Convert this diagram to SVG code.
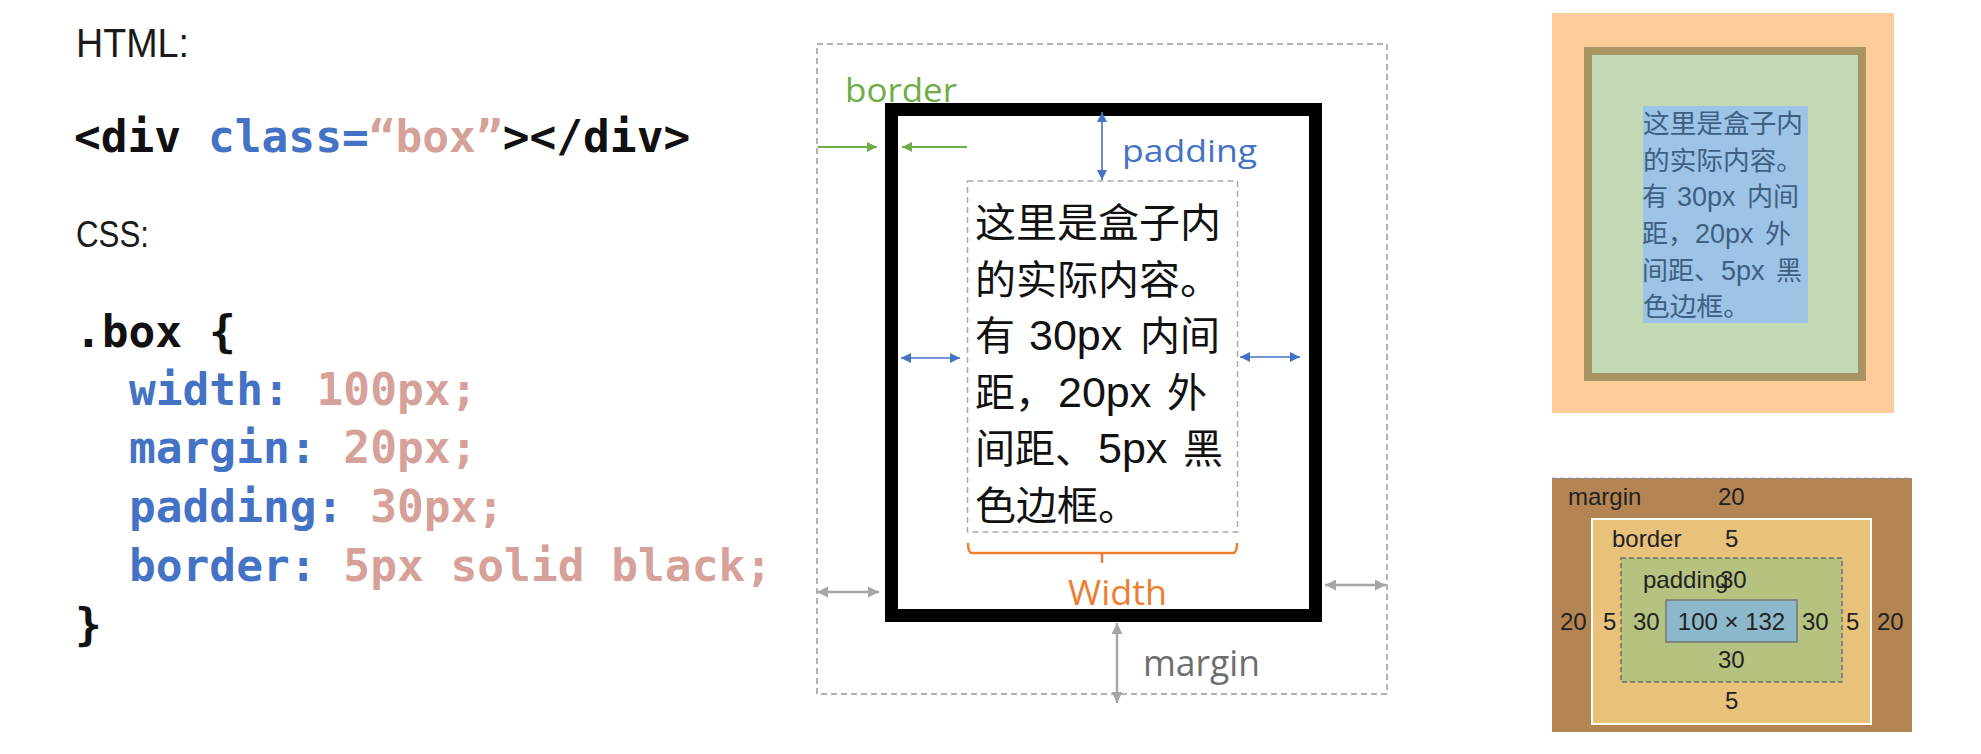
<svg xmlns="http://www.w3.org/2000/svg" width="1981" height="754" viewBox="0 0 1981 754">
<defs>
<style>
.lbl{font-family:"Liberation Sans","Noto Sans",sans-serif;fill:#1a1a1a}
.code{font-family:"DejaVu Sans Mono","Liberation Mono",monospace;font-weight:bold;font-size:44.5px}
.k{fill:#111}
.b{fill:#4472c4}
.v{fill:#d6a198}
.cn{font-family:"Liberation Sans","Noto Sans CJK SC",sans-serif;font-size:40px;fill:#111}
.cn2{font-family:"Liberation Sans","Noto Sans CJK SC",sans-serif;font-size:26px;fill:#3f5f82}
.ann{font-family:"Open Sans","Liberation Sans",sans-serif}
.num{font-family:"Liberation Sans",Arial,sans-serif;font-size:24px;fill:#222}
.ga{stroke:#70ad47;stroke-width:2;fill:none}
.ba{stroke:#4472c4;stroke-width:1.6;fill:none}
.gr{stroke:#a6a6a6;stroke-width:2.5;fill:none}
</style>
<marker id="mg" viewBox="0 0 10 10" refX="10" refY="5" markerWidth="12" markerHeight="10" markerUnits="userSpaceOnUse" orient="auto-start-reverse"><path d="M0,0 L10,5 L0,10 z" fill="#70ad47"/></marker>
<marker id="mb" viewBox="0 0 10 10" refX="10" refY="5" markerWidth="11" markerHeight="10" markerUnits="userSpaceOnUse" orient="auto-start-reverse"><path d="M0,0 L10,5 L0,10 z" fill="#4472c4"/></marker>
<marker id="mr" viewBox="0 0 10 10" refX="10" refY="5" markerWidth="12" markerHeight="11" markerUnits="userSpaceOnUse" orient="auto-start-reverse"><path d="M0,0 L10,5 L0,10 z" fill="#a6a6a6"/></marker>
</defs>
<rect width="1981" height="754" fill="#ffffff"/>

<g id="code-panel">
<text class="lbl" x="76" y="57" font-size="40" textLength="113" lengthAdjust="spacingAndGlyphs">HTML:</text>
<text class="code" x="74" y="152"><tspan class="k">&lt;div </tspan><tspan class="b">class=</tspan><tspan class="v">“box”</tspan><tspan class="k">&gt;&lt;/div&gt;</tspan></text>
<text class="lbl" x="76" y="247" font-size="36" textLength="73" lengthAdjust="spacingAndGlyphs">CSS:</text>
<text class="code k" x="75" y="347">.box {</text>
<text class="code" x="129" y="405"><tspan class="b">width: </tspan><tspan class="v">100px;</tspan></text>
<text class="code" x="129" y="463"><tspan class="b">margin: </tspan><tspan class="v">20px;</tspan></text>
<text class="code" x="129" y="522"><tspan class="b">padding: </tspan><tspan class="v">30px;</tspan></text>
<text class="code" x="129" y="581"><tspan class="b">border: </tspan><tspan class="v">5px solid black;</tspan></text>
<text class="code k" x="75" y="640">}</text>
</g>

<g id="margin-box">
<rect x="817" y="44" width="570" height="650" fill="none" stroke="#9a9a9a" stroke-width="1.5" stroke-dasharray="6,4"/>
</g>

<g id="border-box">
<rect x="891.5" y="109.5" width="424" height="506" fill="none" stroke="#000" stroke-width="13"/>
</g>

<g id="content-box">
<rect x="967.5" y="181" width="270" height="351" fill="none" stroke="#ababab" stroke-width="1.5" stroke-dasharray="6,4"/>
<text class="cn" x="975" y="237" textLength="246" lengthAdjust="spacingAndGlyphs">这里是盒子内</text>
<text class="cn" x="975" y="293.6" textLength="246" lengthAdjust="spacingAndGlyphs">的实际内容。</text>
<text class="cn" y="350.2"><tspan x="975">有</tspan><tspan x="1029" font-size="43">30px</tspan><tspan x="1140">内间</tspan></text>
<text class="cn" y="406.8"><tspan x="975">距，</tspan><tspan x="1058" font-size="43">20px</tspan><tspan x="1167">外</tspan></text>
<text class="cn" y="463.4"><tspan x="975">间距、</tspan><tspan x="1098" font-size="43">5px</tspan><tspan x="1183">黑</tspan></text>
<text class="cn" x="975" y="520" textLength="164" lengthAdjust="spacingAndGlyphs">色边框。</text>
</g>

<g id="labels">
<text class="ann" x="845" y="102" font-size="32" fill="#70ad47" textLength="112" lengthAdjust="spacingAndGlyphs">border</text>
<text class="ann" x="1122" y="162" font-size="31" fill="#4472c4" textLength="135" lengthAdjust="spacingAndGlyphs">padding</text>
<text class="ann" x="1068" y="605" font-size="35" fill="#ed7d31" textLength="99" lengthAdjust="spacingAndGlyphs">Width</text>
<text class="ann" x="1143" y="676" font-size="36" fill="#6e6e6e" textLength="117" lengthAdjust="spacingAndGlyphs">margin</text>
</g>

<g id="connectors">
<path class="ga" d="M818,147 H877" marker-end="url(#mg)"/>
<path class="ga" d="M967,147 H902" marker-end="url(#mg)"/>
<path class="ba" d="M1102,112 V180" marker-start="url(#mb)" marker-end="url(#mb)"/>
<path class="ba" d="M901,358 H960" marker-start="url(#mb)" marker-end="url(#mb)"/>
<path class="ba" d="M1240,357 H1300" marker-start="url(#mb)" marker-end="url(#mb)"/>
<path class="gr" d="M817,592 H879" marker-start="url(#mr)" marker-end="url(#mr)"/>
<path class="gr" d="M1325,585 H1386" marker-start="url(#mr)" marker-end="url(#mr)"/>
<path class="gr" d="M1117,623 V703" marker-start="url(#mr)" marker-end="url(#mr)"/>
<path d="M968,543 Q968,553 972,553 H1233 Q1237,553 1237,543 M1102,553 V563" fill="none" stroke="#ed7d31" stroke-width="2.5"/>
</g>

<g id="rendered-box">
<rect x="1552" y="13" width="342" height="400" fill="#fdcc99"/>
<rect x="1588" y="51" width="274" height="326" fill="#c3d9b4" stroke="#a99563" stroke-width="8"/>
<rect x="1643" y="106" width="165" height="217" fill="#9dc3e6"/>
<text class="cn2" x="1643" y="133" textLength="160" lengthAdjust="spacingAndGlyphs">这里是盒子内</text>
<text class="cn2" x="1643" y="170" textLength="160" lengthAdjust="spacingAndGlyphs">的实际内容。</text>
<text class="cn2" y="206"><tspan x="1642">有</tspan><tspan x="1677" font-size="27">30px</tspan><tspan x="1747">内间</tspan></text>
<text class="cn2" y="243"><tspan x="1642">距，</tspan><tspan x="1695" font-size="27">20px</tspan><tspan x="1765">外</tspan></text>
<text class="cn2" y="280"><tspan x="1642">间距、</tspan><tspan x="1721" font-size="27">5px</tspan><tspan x="1776">黑</tspan></text>
<text class="cn2" x="1643" y="316" textLength="107" lengthAdjust="spacingAndGlyphs">色边框。</text>
</g>

<g id="devtools-box">
<rect x="1552" y="478" width="360" height="254" fill="#b48552"/>
<line x1="1552" y1="478.5" x2="1912" y2="478.5" stroke="#8c8c8c" stroke-width="1.5" stroke-dasharray="5,3"/>
<rect x="1592" y="519" width="279" height="205" fill="#e8c17b" stroke="#ffffff" stroke-width="2"/>
<rect x="1621" y="558" width="221" height="124" fill="#b6c27f" stroke="#6f6f6f" stroke-width="1.5" stroke-dasharray="5,3"/>
<rect x="1666" y="600" width="131" height="42" fill="#8db8cb" stroke="#777777" stroke-width="1.5"/>
<text class="num" x="1568" y="505">margin</text>
<text class="num" x="1718" y="505">20</text>
<text class="num" x="1612" y="547">border</text>
<text class="num" x="1725" y="547">5</text>
<text class="num" x="1643" y="588">padding</text>
<text class="num" x="1720" y="588">30</text>
<text class="num" x="1560" y="630">20</text>
<text class="num" x="1603" y="630">5</text>
<text class="num" x="1633" y="630">30</text>
<text class="num" x="1731.5" y="630" text-anchor="middle">100 × 132</text>
<text class="num" x="1802" y="630">30</text>
<text class="num" x="1846" y="630">5</text>
<text class="num" x="1877" y="630">20</text>
<text class="num" x="1718" y="668">30</text>
<text class="num" x="1725" y="709">5</text>
</g>
</svg>
